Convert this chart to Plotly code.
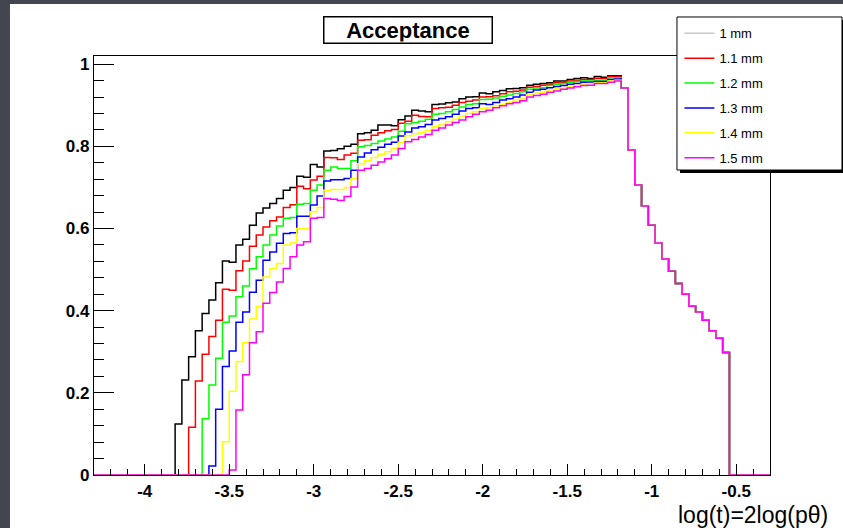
import plotly.graph_objects as go

# Histogram binning (ROOT TH1): 100 bins on [-4.3, -0.3]
x_lo = -4.3
bin_width = 0.04
n_bins = 100

series_names = ["1 mm", "1.1 mm", "1.2 mm", "1.3 mm", "1.4 mm", "1.5 mm"]

# first non-empty bin index for each series (rising edge)
first_bin = [12, 14, 16, 17, 19, 20]

acc_1mm = [0.124, 0.231, 0.288, 0.351, 0.393, 0.426, 0.468, 0.521, 0.518, 0.560,
           0.574, 0.608, 0.638, 0.650, 0.661, 0.673, 0.693, 0.700, 0.727, 0.725,
           0.756, 0.750, 0.789, 0.790, 0.794, 0.800, 0.805, 0.831, 0.833, 0.839,
           0.852, 0.852, 0.850, 0.865, 0.874, 0.888, 0.886, 0.884, 0.902, 0.903,
           0.906, 0.908, 0.916, 0.920, 0.921, 0.930, 0.928, 0.933, 0.936, 0.940,
           0.941, 0.943, 0.949, 0.951, 0.953, 0.955, 0.959, 0.959, 0.963, 0.965,
           0.967, 0.965, 0.970, 0.968, 0.972, 0.972]
acc_1p1mm = [0.116, 0.229, 0.294, 0.337, 0.377, 0.452, 0.450, 0.497, 0.521, 0.557,
             0.584, 0.604, 0.619, 0.628, 0.651, 0.658, 0.703, 0.697, 0.718, 0.727,
             0.773, 0.772, 0.768, 0.779, 0.783, 0.815, 0.816, 0.827, 0.833, 0.838,
             0.841, 0.856, 0.861, 0.876, 0.873, 0.872, 0.892, 0.894, 0.895, 0.900,
             0.907, 0.910, 0.913, 0.920, 0.921, 0.923, 0.928, 0.933, 0.934, 0.937,
             0.944, 0.946, 0.949, 0.951, 0.955, 0.956, 0.959, 0.961, 0.963, 0.963,
             0.966, 0.965, 0.970, 0.970]
acc_1p2mm = [0.137, 0.219, 0.284, 0.372, 0.387, 0.434, 0.460, 0.502, 0.531, 0.560,
             0.584, 0.606, 0.625, 0.627, 0.659, 0.661, 0.693, 0.706, 0.742, 0.750,
             0.746, 0.746, 0.765, 0.799, 0.802, 0.807, 0.813, 0.818, 0.823, 0.837,
             0.855, 0.858, 0.861, 0.866, 0.878, 0.880, 0.884, 0.890, 0.896, 0.902,
             0.904, 0.914, 0.915, 0.918, 0.922, 0.925, 0.929, 0.933, 0.939, 0.942,
             0.943, 0.948, 0.951, 0.953, 0.956, 0.958, 0.959, 0.959, 0.961, 0.961,
             0.967, 0.967]
acc_1p3mm = [0.022, 0.160, 0.264, 0.302, 0.372, 0.397, 0.445, 0.474, 0.523, 0.543,
             0.564, 0.588, 0.590, 0.630, 0.630, 0.657, 0.679, 0.716, 0.719, 0.719,
             0.722, 0.742, 0.774, 0.784, 0.792, 0.798, 0.805, 0.810, 0.825, 0.835,
             0.845, 0.848, 0.853, 0.864, 0.868, 0.872, 0.878, 0.886, 0.892, 0.894,
             0.904, 0.902, 0.907, 0.913, 0.916, 0.920, 0.925, 0.932, 0.937, 0.939,
             0.943, 0.946, 0.948, 0.951, 0.953, 0.956, 0.956, 0.958, 0.958, 0.963,
             0.964]
acc_1p4mm = [0.081, 0.204, 0.276, 0.322, 0.380, 0.410, 0.482, 0.503, 0.515, 0.560,
             0.565, 0.600, 0.600, 0.641, 0.651, 0.693, 0.695, 0.695, 0.700, 0.722,
             0.758, 0.765, 0.773, 0.781, 0.787, 0.795, 0.810, 0.826, 0.831, 0.834,
             0.839, 0.848, 0.852, 0.860, 0.866, 0.874, 0.880, 0.884, 0.892, 0.894,
             0.899, 0.902, 0.907, 0.913, 0.916, 0.926, 0.930, 0.932, 0.937, 0.940,
             0.942, 0.945, 0.948, 0.951, 0.953, 0.955, 0.955, 0.959, 0.961]
acc_1p5mm = [0.012, 0.158, 0.244, 0.322, 0.349, 0.418, 0.444, 0.470, 0.503, 0.531,
             0.560, 0.568, 0.625, 0.627, 0.673, 0.671, 0.668, 0.678, 0.701, 0.742,
             0.746, 0.754, 0.762, 0.770, 0.779, 0.795, 0.811, 0.817, 0.823, 0.829,
             0.839, 0.845, 0.852, 0.858, 0.864, 0.872, 0.878, 0.884, 0.888, 0.894,
             0.899, 0.904, 0.907, 0.911, 0.920, 0.924, 0.927, 0.932, 0.935, 0.939,
             0.942, 0.945, 0.948, 0.949, 0.953, 0.953, 0.956, 0.959]

# common falling tail (bins 78..93), identical for all apertures
acc_tail = [0.942, 0.791, 0.706, 0.655, 0.608, 0.565, 0.526, 0.496, 0.466, 0.440,
            0.411, 0.397, 0.377, 0.351, 0.333, 0.298]

series_values = [acc_1mm, acc_1p1mm, acc_1p2mm, acc_1p3mm, acc_1p4mm, acc_1p5mm]
colors = ["#000000", "#ff0000", "#00ff00", "#0000ff", "#ffff00", "#ff00ff"]
legend_colors = ["#c8c8c8", "#ff0000", "#00ff00", "#0000ff", "#ffff00", "#ff00ff"]

x_ticks = [-4, -3.5, -3, -2.5, -2, -1.5, -1, -0.5]
x_ticklabels = ["-4", "-3.5", "-3", "-2.5", "-2", "-1.5", "-1", "-0.5"]
y_ticks = [0, 0.2, 0.4, 0.6, 0.8, 1]
y_ticklabels = ["0", "0.2", "0.4", "0.6", "0.8", "1"]

edges = [round(x_lo + bin_width * i, 4) for i in range(n_bins + 1)]

fig = go.Figure()
for name, start, vals, col in zip(series_names, first_bin, series_values, colors):
    content = [0.0] * start + list(vals) + list(acc_tail)
    content += [0.0] * (n_bins - len(content))
    fig.add_trace(go.Scatter(
        x=edges, y=content + [content[-1]], mode="lines",
        line=dict(color=col, width=1.5, shape="hv"),
        showlegend=False, hoverinfo="skip"))

for i, (name, lc) in enumerate(zip(series_names, legend_colors)):
    fig.add_trace(go.Scatter(
        x=[None], y=[None], mode="lines", name=name,
        line=dict(color=lc, width=1.5), legendgroup=f"g{i}"))

FONT = "Liberation Sans, Arial, sans-serif"
BORDER = "#44464f"

fig.update_layout(
    width=843, height=528,
    margin=dict(l=94, r=73, t=56, b=53),
    paper_bgcolor="white", plot_bgcolor="white",
    font=dict(family=FONT, color="black"),
    xaxis=dict(
        range=[-4.3, -0.3], showgrid=False, zeroline=False, automargin=False,
        showline=True, linecolor="black", linewidth=1.2, mirror=True,
        ticks="inside", ticklen=11, tickwidth=1, tickcolor="black",
        tickvals=x_ticks, ticktext=x_ticklabels,
        tickfont=dict(size=17, family=FONT, weight="bold"),
        minor=dict(ticks="inside", ticklen=6, dtick=0.1, tick0=-4, tickcolor="black", showgrid=False),
    ),
    yaxis=dict(
        range=[0, 1.02], showgrid=False, zeroline=False, automargin=False,
        showline=True, linecolor="black", linewidth=1.2, mirror=True,
        ticks="inside", ticklen=20, tickwidth=1, tickcolor="black",
        tickvals=y_ticks, ticktext=y_ticklabels,
        tickfont=dict(size=17, family=FONT, weight="bold"),
        minor=dict(ticks="inside", ticklen=10, dtick=0.04, tick0=0, tickcolor="black", showgrid=False),
    ),
    legend=dict(
        x=0.866, y=1.090, xanchor="left", yanchor="top",
        bgcolor="rgba(0,0,0,0)", borderwidth=0,
        font=dict(size=13, family=FONT), itemwidth=30,
        tracegroupgap=5,
    ),
    shapes=[
        # dark canvas border (left and top)
        dict(type="rect", xref="paper", yref="paper",
             x0=-0.1391, x1=-0.1243, y0=-0.1265, y1=1.1337,
             fillcolor=BORDER, line=dict(width=0), layer="above"),
        dict(type="rect", xref="paper", yref="paper",
             x0=-0.1391, x1=1.1080, y0=1.1241, y1=1.1337,
             fillcolor=BORDER, line=dict(width=0), layer="above"),
        # legend shadow and box
        dict(type="rect", xref="paper", yref="paper",
             x0=0.8669, x1=1.1110, y0=0.7207, y1=1.0859,
             fillcolor="black", line=dict(width=0), layer="above"),
        dict(type="rect", xref="paper", yref="paper",
             x0=0.8624, x1=1.1065, y0=0.7279, y1=1.0931,
             fillcolor="white", line=dict(color="black", width=1), layer="above"),
    ],
    annotations=[
        dict(text="Acceptance", xref="paper", yref="paper", x=0.464, y=1.062,
             xanchor="center", yanchor="middle", showarrow=False,
             width=165, height=23, bordercolor="black", borderwidth=1.5,
             bgcolor="white", font=dict(size=22, family=FONT, weight="bold")),
        dict(text="log(t)=2log(p\u03b8)", xref="paper", yref="paper", x=1.0888, y=-0.0955,
             xanchor="right", yanchor="middle", showarrow=False,
             font=dict(size=23, family=FONT)),
    ],
)

fig.write_html("out.html", config={"displayModeBar": False},
               post_script="document.body.style.margin='0';")
